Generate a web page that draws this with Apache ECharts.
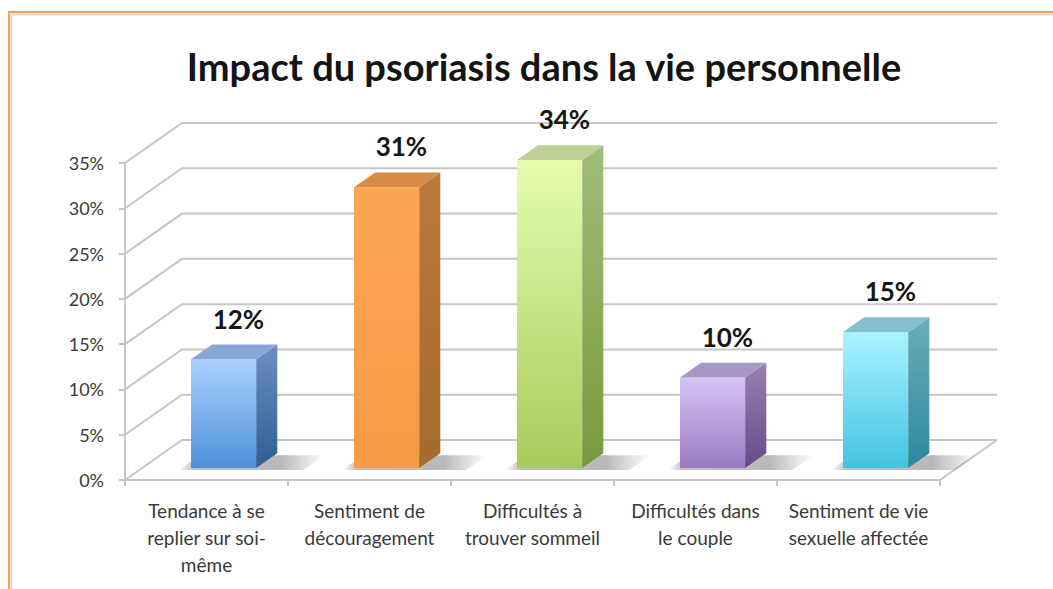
<!DOCTYPE html>
<html>
<head>
<meta charset="utf-8">
<style>
  html, body { margin: 0; padding: 0; background: #fff; }
  #chart { width: 1053px; height: 589px; }
</style>
<script src="https://cdn.jsdelivr.net/npm/echarts@6/dist/echarts.min.js"></script>
</head>
<body>
<div id="chart"></div>
<script>
// données
var categories = [
    'Tendance à se\nreplier sur soi-\nmême',
    'Sentiment de\ndécouragement',
    'Difficultés à\ntrouver sommeil',
    'Difficultés dans\nle couple',
    'Sentiment de vie\nsexuelle affectée'
];
var values = [12, 31, 34, 10, 15];
var yTicks = [0, 5, 10, 15, 20, 25, 30, 35];

// couleurs des barres : face avant (haut, bas), côté (haut, bas), dessus
var palette = [
    ['#abd0fc', '#4d92db', '#6b90c0', '#2e5e94', '#87a8d4'],
    ['#fca653', '#f69b46', '#bb7a3a', '#a56a2e', '#d68c47'],
    ['#e5fcae', '#a8cb5c', '#a2bd7a', '#789a3e', '#bdd096'],
    ['#d6c4f4', '#9a7ac2', '#9782ae', '#684a8b', '#a998c5'],
    ['#aaf3ff', '#43c3e1', '#6cadb9', '#2c899c', '#83c0cd']
];

var depth = [57, -40];   // profondeur du plancher en pixels
var f0 = 0.3, f1 = 0.67; // position avant / arrière des barres dans la profondeur
var gridColor = '#c6c6c6';

var myChart = echarts.init(document.getElementById('chart'), null, { renderer: 'svg' });

function grad(c1, c2) {
    return new echarts.graphic.LinearGradient(0, 0, 0, 1, [
        { offset: 0, color: c1 },
        { offset: 1, color: c2 }
    ]);
}

var option = {
    animation: false,
    backgroundColor: '#fff',
    textStyle: { fontFamily: 'Lato' },
    title: {
        text: 'Impact du psoriasis dans la vie personnelle',
        left: 539,
        top: 42,
        textAlign: 'center',
        textStyle: { fontSize: 38, fontWeight: 'bold', color: '#141414', fontFamily: 'Lato' }
    },
    graphic: [
        { type: 'rect', shape: { x: 9, y: 12, width: 1100, height: 700 },
          style: { fill: 'none', stroke: '#f6a052', lineWidth: 2 }, z: 1 },
        { type: 'rect', shape: { x: 11.5, y: 14.5, width: 1100, height: 700 },
          style: { fill: 'none', stroke: '#d9d9d9', lineWidth: 2 }, z: 1 }
    ],
    grid: { left: 125, right: 113, top: 163, bottom: 109 },
    xAxis: {
        type: 'category',
        data: categories,
        axisLine: { lineStyle: { color: gridColor, width: 2 } },
        axisTick: { show: true, length: 6, lineStyle: { color: gridColor, width: 2 } },
        axisLabel: { interval: 0, hideOverlap: false, margin: 17, fontSize: 19, lineHeight: 27, color: '#3a3a3a', fontFamily: 'Lato' },
        splitLine: { show: false }
    },
    yAxis: {
        type: 'value',
        min: 0,
        max: 35,
        interval: 5,
        axisLine: { show: true, lineStyle: { color: gridColor, width: 2 } },
        axisTick: { show: true, length: 6, lineStyle: { color: gridColor, width: 2 } },
        axisLabel: { formatter: '{value}%', margin: 21, fontSize: 18, color: '#3a3a3a', fontFamily: 'Lato' },
        splitLine: { show: false }
    },
    series: [
        {
            // murs : lignes de quadrillage sur le côté gauche et au fond
            type: 'custom',
            z: 1,
            silent: true,
            data: yTicks.map(function(v) { return [0, v]; }),
            renderItem: function(params, api) {
                var cs = params.coordSys;
                var y = api.coord([0, api.value(1)])[1];
                var x0 = cs.x, x1 = cs.x + cs.width;
                var children = [{
                    type: 'polyline',
                    shape: { points: [[x0, y], [x0 + depth[0], y + depth[1]], [x1 + depth[0], y + depth[1]]] },
                    style: { stroke: gridColor, lineWidth: 2, fill: 'none' }
                }];
                if (api.value(1) === 0) {
                    children.push({
                        type: 'line',
                        shape: { x1: x1, y1: y, x2: x1 + depth[0], y2: y + depth[1] },
                        style: { stroke: gridColor, lineWidth: 2 }
                    });
                }
                return { type: 'group', children: children };
            }
        },
        {
            type: 'custom',
            z: 3,
            data: values.map(function(v, i) { return [i, v]; }),
            renderItem: function(params, api) {
                var i = params.dataIndex;
                var c = palette[i];
                var base = api.coord([i, 0]);
                var top = api.coord([i, api.value(1)]);
                var bw = api.size([1, 0])[0] * 0.4;
                var h = base[1] - top[1];
                var fx = base[0] - bw / 2 + depth[0] * f0;
                var fy = base[1] + depth[1] * f0;
                var dx = depth[0] * (f1 - f0), dy = depth[1] * (f1 - f0);
                var sx = fx + bw + dx;
                return {
                    type: 'group',
                    children: [
                        {
                            // ombre portée sur le plancher
                            type: 'polygon',
                            shape: { points: [[fx - 12, fy + 2], [sx + 26, fy + 2], [sx + 26 + dx, fy + 2 + dy], [fx - 12 + dx, fy + 2 + dy]] },
                            style: {
                                fill: new echarts.graphic.LinearGradient(0, 0, 1, 0, [
                                    { offset: 0, color: 'rgba(80,80,80,0)' },
                                    { offset: 0.1, color: 'rgba(80,80,80,0.35)' },
                                    { offset: 0.7, color: 'rgba(80,80,80,0.4)' },
                                    { offset: 1, color: 'rgba(80,80,80,0)' }
                                ])
                            }
                        },
                        {
                            type: 'rect',
                            shape: { x: fx, y: fy - h, width: bw, height: h },
                            style: { fill: grad(c[0], c[1]) }
                        },
                        {
                            type: 'polygon',
                            shape: { points: [[fx + bw, fy], [fx + bw, fy - h], [sx, fy - h + dy], [sx, fy + dy]] },
                            style: { fill: grad(c[2], c[3]) }
                        },
                        {
                            type: 'polygon',
                            shape: { points: [[fx, fy - h], [fx + bw, fy - h], [sx, fy - h + dy], [fx + dx, fy - h + dy]] },
                            style: { fill: c[4] }
                        },
                        {
                            type: 'text',
                            x: fx + bw / 2 + dx * 0.7,
                            y: fy - h + dy - 26,
                            style: {
                                text: api.value(1) + '%',
                                fontSize: 26,
                                fontWeight: 'bold',
                                fontFamily: 'Lato',
                                fill: '#161616',
                                align: 'center',
                                verticalAlign: 'middle'
                            }
                        }
                    ]
                };
            }
        }
    ]
};

myChart.setOption(option);

window.addEventListener('resize', function() {
    myChart.resize();
});
</script>
</body>
</html>
